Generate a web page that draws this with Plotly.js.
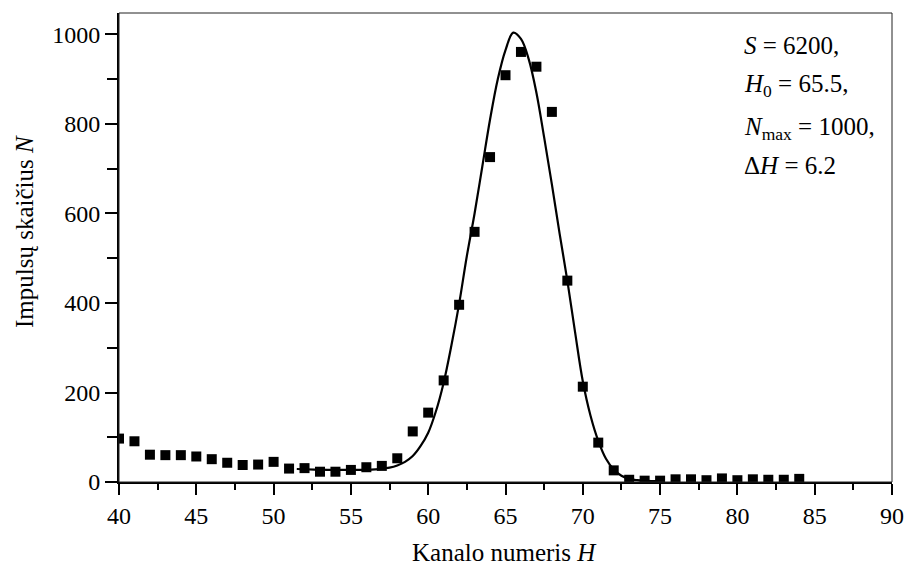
<!DOCTYPE html>
<html>
<head>
<meta charset="utf-8">
<script src="https://cdn.plot.ly/plotly-3.0.1.min.js"></script>
<style>
html,body{margin:0;padding:0;background:#fff;}
#chart{width:905px;height:568px;}
</style>
</head>
<body>
<div id="chart"></div>
<script>
// Measured channel counts (squares)
const channels = [40,41,42,43,44,45,46,47,48,49,50,51,52,53,54,55,56,57,58,59,60,61,62,63,64,65,66,67,68,69,70,71,72,73,74,75,76,77,78,79,80,81,82,83,84];
const counts   = [97,91,61,60,60,57,51,43,38,39,45,30,31,23,23,27,33,36,53,113,155,227,396,559,726,909,961,928,827,450,213,88,26,5,3,3,6,6,4,8,4,6,5,5,7];

// Fitted curve
const fitH = [51.5,52,53,54,55,56,57,57.5,58,58.5,59,59.5,60,60.5,61,61.5,62,62.5,63,63.5,64,64.5,65,65.5,66,66.5,67,67.5,68,68.5,69,69.5,70,70.5,71,71.5,72,72.5,73,73.5,74,74.5,75];
const fitN = [29,28.5,27.5,27,27,27.5,29.5,32,37,45,58,80,110,158,222,305,398,505,600,705,810,900,965,1004,990,945,870,770,665,555,450,335,225,148,92,52,28,14,7,4,2.5,2,2];

const xTicks = [40,45,50,55,60,65,70,75,80,85,90];
const yTicks = [0,200,400,600,800,1000];

const FONT = "Liberation Serif, Times New Roman, serif";

const traces = [
  {x: fitH, y: fitN, type: 'scatter', mode: 'lines',
   line: {color: '#000', width: 2.2, shape: 'spline', smoothing: 1.0}, hoverinfo: 'skip'},
  {x: channels, y: counts, type: 'scatter', mode: 'markers',
   marker: {symbol: 'square', size: 10, color: '#000'}}
];

const layout = {
  width: 905, height: 568,
  margin: {l: 119, r: 13, t: 13, b: 86},
  paper_bgcolor: '#fff', plot_bgcolor: '#fff',
  showlegend: false,
  font: {family: FONT, size: 24, color: '#000'},
  xaxis: {
    range: [40, 90], tickvals: xTicks, ticktext: xTicks.map(String),
    showgrid: false, zeroline: false, showline: true, linecolor: '#000', linewidth: 2,
    ticks: 'outside', ticklen: 11, tickwidth: 2, tickcolor: '#000',
    tickfont: {family: FONT, size: 24, color: '#000'},
    minor: {dtick: 2.5, tick0: 40, ticks: 'outside', ticklen: 6, tickwidth: 2, tickcolor: '#000', showgrid: false}
  },
  yaxis: {
    range: [0, 1048], tickvals: yTicks, ticktext: yTicks.map(String),
    showgrid: false, zeroline: false, showline: true, linecolor: '#000', linewidth: 2,
    ticks: 'outside', ticklen: 12, tickwidth: 2, tickcolor: '#000',
    tickfont: {family: FONT, size: 24, color: '#000'},
    minor: {dtick: 100, tick0: 0, ticks: 'outside', ticklen: 10, tickwidth: 2, tickcolor: '#000', showgrid: false}
  },
  shapes: [
    {type: 'rect', xref: 'paper', yref: 'paper', x0: 0, x1: 1, y0: 0, y1: 1,
     line: {color: '#222', width: 1}, fillcolor: 'rgba(0,0,0,0)'}
  ],
  annotations: [
    {text: 'Kanalo numeris <i>H</i>', xref: 'paper', yref: 'paper', x: 0.4993, y: -0.150,
     xanchor: 'center', yanchor: 'middle', showarrow: false, font: {family: FONT, size: 25, color: '#000'}},
    {text: 'Impulsų skaičius <i>N</i>', xref: 'paper', yref: 'paper', x: -0.123, y: 0.535,
     xanchor: 'center', yanchor: 'middle', textangle: -90, showarrow: false, font: {family: FONT, size: 25, color: '#000'}},
    {text: '<i>S</i> = 6200,', xref: 'paper', yref: 'paper', x: 0.806, y: (482.3-46)/469,
     xanchor: 'left', yanchor: 'middle', showarrow: false, font: {family: FONT, size: 25, color: '#000'}},
    {text: '<i>H</i><sub>0</sub> = 65.5,', xref: 'paper', yref: 'paper', x: 0.806, y: (482.3-86)/469,
     xanchor: 'left', yanchor: 'middle', showarrow: false, font: {family: FONT, size: 25, color: '#000'}},
    {text: '<i>N</i><sub>max</sub> = 1000,', xref: 'paper', yref: 'paper', x: 0.806, y: (482.3-129)/469,
     xanchor: 'left', yanchor: 'middle', showarrow: false, font: {family: FONT, size: 25, color: '#000'}},
    {text: 'Δ<i>H</i> = 6.2', xref: 'paper', yref: 'paper', x: 0.806, y: (482.3-166)/469,
     xanchor: 'left', yanchor: 'middle', showarrow: false, font: {family: FONT, size: 25, color: '#000'}}
  ]
};

Plotly.newPlot('chart', traces, layout, {staticPlot: true, displayModeBar: false});
</script>
</body>
</html>
